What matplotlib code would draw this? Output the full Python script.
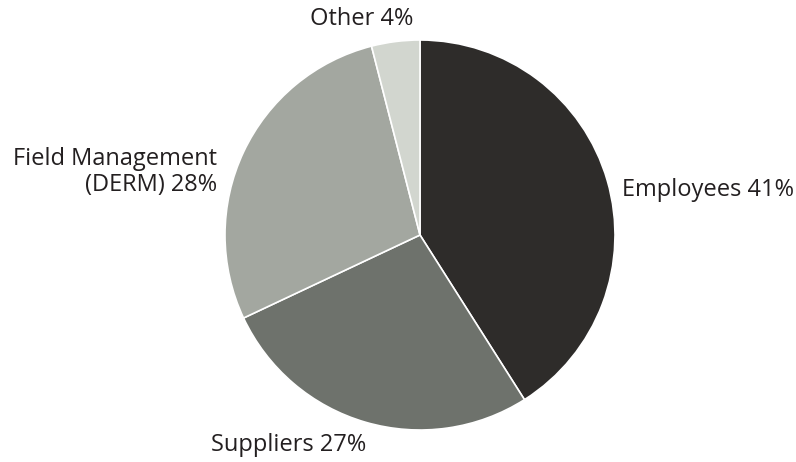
import matplotlib.pyplot as plt

# datos
categorias = ['Employees', 'Suppliers', 'Field Management\n(DERM)', 'Other']
porcentajes = [41, 27, 28, 4]
colores = ['#2e2c2a', '#6e726c', '#a3a7a0', '#d2d6cf']


def main():
    fig = plt.figure(figsize=(7.96, 4.62), dpi=100)
    ax = fig.add_axes([0, 0, 1, 1])
    ax.set_xlim(0, 796)
    ax.set_ylim(0, 462)
    ax.set_aspect('equal')
    ax.axis('off')

    ax.pie(porcentajes, colors=colores, startangle=90, counterclock=False,
           center=(420, 227), radius=195,
           wedgeprops=dict(edgecolor='white', linewidth=1.2))
    ax.set_xlim(0, 796)
    ax.set_ylim(0, 462)

    fuente = dict(fontsize=17, family=['Open Sans', 'DejaVu Sans'], color='#231f20')

    # etiquetas
    ax.text(622, 272, f'{categorias[0]} {porcentajes[0]}%', ha='left', va='center', **fuente)
    ax.text(211, 17, f'{categorias[1]} {porcentajes[1]}%', ha='left', va='center', **fuente)
    ax.text(217, 290, f'{categorias[2]} {porcentajes[2]}%', ha='right', va='center',
            multialignment='right', linespacing=1.1, **fuente)
    ax.text(362, 443, f'{categorias[3]} {porcentajes[3]}%', ha='center', va='center', **fuente)

    fig.savefig('out.png', dpi=100)


if __name__ == "__main__":
    main()
